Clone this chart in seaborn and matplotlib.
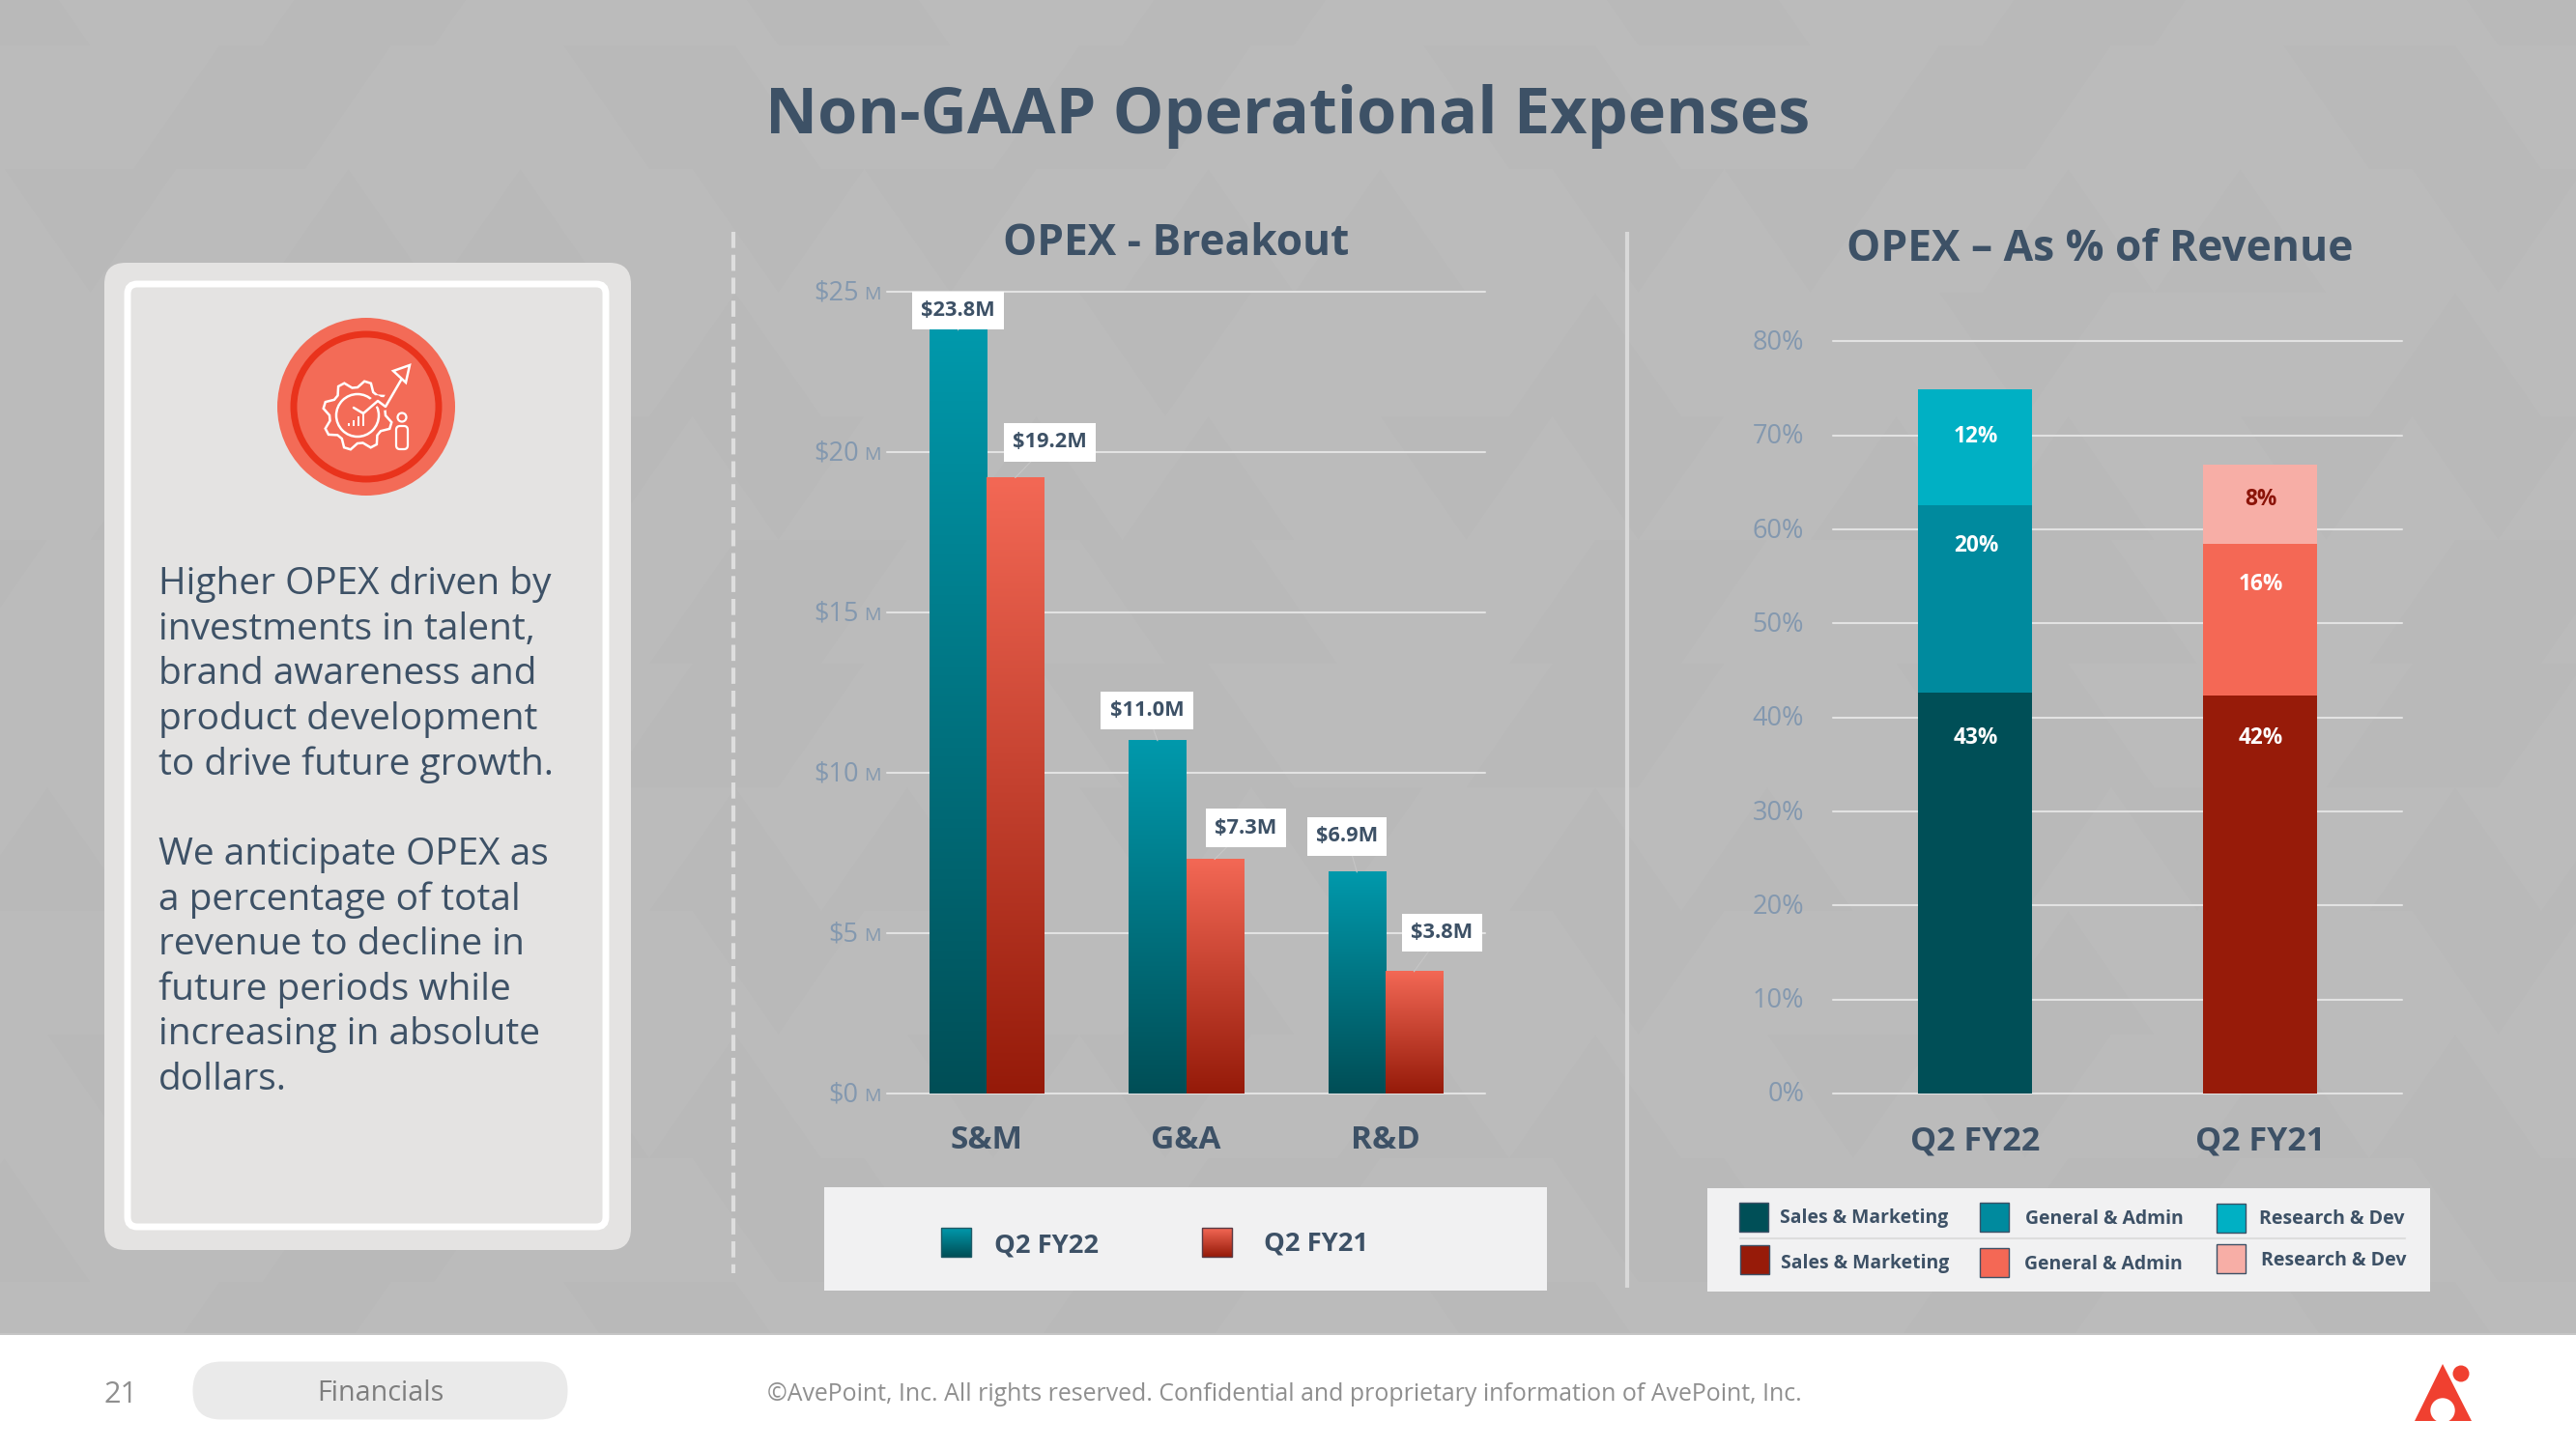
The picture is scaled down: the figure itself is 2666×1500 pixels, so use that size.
import numpy as np
import pandas as pd
import matplotlib
matplotlib.use("Agg")
import matplotlib.pyplot as plt
from matplotlib.colors import LinearSegmentedColormap
from matplotlib.patches import Rectangle, FancyBboxPatch, Circle, Polygon
from matplotlib.collections import PolyCollection
from matplotlib.transforms import ScaledTranslation
import seaborn as sns

# ---------- data ----------
BREAKOUT_CATS = ["S&M", "G&A", "R&D"]
BREAKOUT_FY22 = [23.8, 11.0, 6.9]
BREAKOUT_FY21 = [19.2, 7.3, 3.8]
BREAKOUT_LABELS_FY22 = ["$23.8M", "$11.0M", "$6.9M"]
BREAKOUT_LABELS_FY21 = ["$19.2M", "$7.3M", "$3.8M"]
BREAKOUT_TICKS = [0, 5, 10, 15, 20, 25]

QUARTERS = ["Q2 FY22", "Q2 FY21"]
SEGMENTS = ["Sales & Marketing", "General & Admin", "Research & Dev"]
PCT_FY22 = [42.65, 19.95, 12.35]
PCT_FY21 = [42.3, 16.2, 8.4]
PCT_LABELS_FY22 = ["43%", "20%", "12%"]
PCT_LABELS_FY21 = ["42%", "16%", "8%"]
PCT_TICKS = [0, 10, 20, 30, 40, 50, 60, 70, 80]

SIDEBAR = ["Higher OPEX driven by", "investments in talent,", "brand awareness and",
           "product development", "to drive future growth.", "",
           "We anticipate OPEX as", "a percentage of total", "revenue to decline in",
           "future periods while", "increasing in absolute", "dollars."]

# ---------- style ----------
NAVY = "#3D5166"
TICK = "#8398AF"
GRID = "#E2E2E2"
BG = "#BBBBBB"
TEAL_TOP, TEAL_BOT = "#0099AC", "#004E56"
RED_TOP, RED_BOT = "#F36855", "#951A09"
FY22_COLORS = ["#004F57", "#008A9E", "#00B0C4"]
FY21_COLORS = ["#971B09", "#F46855", "#F7AEA6"]
PCT_TEXT_FY22 = ["white", "white", "white"]
PCT_TEXT_FY21 = ["white", "white", "#8B1409"]

sns.set_theme(style="white")
plt.rcParams["font.family"] = ["Open Sans", "DejaVu Sans"]
plt.rcParams["axes.facecolor"] = "none"

W, H = 2666, 1500
fig = plt.figure(figsize=(W / 100, H / 100), dpi=100, facecolor=BG)
renderer = fig.canvas.get_renderer()


def px_axes(x0, y0, x1, y1, **kw):
    return fig.add_axes([x0 / W, 1 - y1 / H, (x1 - x0) / W, (y1 - y0) / H], **kw)


bg = px_axes(0, 0, W, H, zorder=0)
bg.set_xlim(0, W)
bg.set_ylim(H, 0)
bg.axis("off")


def T(x, y, s, width=None, size=20, color=NAVY, weight="normal", ha="left", va="center", zorder=5):
    t = bg.text(x, y, s, fontsize=size, color=color, fontweight=weight, ha=ha, va=va, zorder=zorder)
    if width:
        w = t.get_window_extent(renderer).width
        t.set_fontsize(size * width / w)
    return t


def nudge(labels, dx_px=0, dy_px=0):
    for lab in labels:
        lab.set_transform(lab.get_transform() + ScaledTranslation(dx_px / 100, dy_px / 100, fig.dpi_scale_trans))


# faint triangle texture
polys, faces = [], []
tw, th = 178, 128
for r in range(-1, 12):
    y0 = 47 + r * th
    for c in range(-1, 32):
        x0 = c * tw / 2 + (r % 2) * tw / 4 - 40
        up = (c + r) % 2 == 0
        pts = [(x0, y0 + th), (x0 + tw, y0 + th), (x0 + tw / 2, y0)] if up else [(x0, y0), (x0 + tw, y0), (x0 + tw / 2, y0 + th)]
        k = (c * c * 3 + r * 7 + c * r) % 5
        polys.append(pts)
        faces.append((1, 1, 1, 0.012) if k in (0, 1) else (0, 0, 0, 0.008) if k == 2 else (0, 0, 0, 0))
bg.add_collection(PolyCollection(polys, facecolors=faces, edgecolors="none", zorder=0.5))

# footer
bg.add_patch(Rectangle((0, 1382), W, H - 1382, fc="white", ec="none", zorder=1))
bg.plot([0, W], [1381, 1381], color="#C8C8C8", lw=1.2, zorder=1)
bg.add_patch(FancyBboxPatch((199 + 30, 1410 + 29), 389 - 60, 1, boxstyle="round,pad=29.5,rounding_size=29.5",
                            fc="#EAEAEA", ec="none", zorder=2))
T(394, 1442.5, "Financials", width=131, color="#7E7E7E", ha="center")
T(125, 1443.5, "21", width=35, color="#8F8F8F", ha="center")
T(794, 1443.5, "©AvePoint, Inc. All rights reserved. Confidential and proprietary information of AvePoint, Inc.",
  width=1071, color="#8F8F8F")

# logo
LOGO = "#F04030"
bg.add_patch(Polygon([(2499, 1471), (2558, 1471), (2528, 1412)], fc=LOGO, ec="none", zorder=2))
bg.add_patch(Circle((2528, 1460), 12.7, fc="white", ec="none", zorder=3))
bg.add_patch(Circle((2547, 1422), 8.5, fc=LOGO, ec="none", zorder=3))

# sidebar card
bg.add_patch(FancyBboxPatch((108 + 22, 272 + 22), 545 - 44, 1022 - 44, boxstyle="round,pad=22,rounding_size=22",
                            fc="#E4E3E2", ec="none", zorder=2))
bg.add_patch(FancyBboxPatch((132 + 10, 294 + 10), 495 - 20, 976 - 20, boxstyle="round,pad=10,rounding_size=10",
                            fc="#E4E3E2", ec="white", lw=5, zorder=3))
# icon
bg.add_patch(Circle((379, 421), 92, fc="#F36B57", ec="none", zorder=4))
bg.add_patch(Circle((379, 421), 75, fc="none", ec="#E9331C", lw=5, zorder=4))
ang = np.linspace(0, 2 * np.pi, 8 * 4, endpoint=False) + 0.2
rad = np.where(np.arange(len(ang)) % 4 < 2, 36, 29)
gear_x = 370 + rad * np.cos(ang)
gear_y = 430 + rad * np.sin(ang)
bg.add_patch(Polygon(np.c_[gear_x, gear_y], closed=True, fc="#F36B57", ec="white", lw=1.8, zorder=5))
bg.add_patch(Circle((370, 430), 22, fc="#F36B57", ec="white", lw=1.8, zorder=5))
bg.plot([364, 375, 390, 398, 416], [420, 427, 414, 420, 388], color="#F36B57", lw=7, zorder=5.5)
bg.plot([366, 376, 391, 399, 417], [422, 428, 415, 421, 390], color="white", lw=1.8, zorder=5.6)
bg.add_patch(Polygon([(424, 378), (407, 384), (420, 396)], fc="#F36B57", ec="white", lw=1.8, zorder=5.7))
for bx, bh in zip([361, 366, 371, 376], [3, 6, 10, 15]):
    bg.plot([bx, bx], [441, 441 - bh], color="white", lw=1.4, zorder=5.7, solid_capstyle="butt")
bg.add_patch(Circle((416, 432), 4.5, fc="#F36B57", ec="white", lw=1.6, zorder=5.7))
bg.add_patch(FancyBboxPatch((411, 442), 10, 22, boxstyle="round,pad=1,rounding_size=4", fc="#F36B57", ec="white", lw=1.6, zorder=5.7))

# sidebar text
ref = T(164, 615, SIDEBAR[0], width=406, color=NAVY, va="baseline")
fs = ref.get_fontsize()
for i, line in enumerate(SIDEBAR[1:], start=1):
    if line:
        T(164, 615 + i * 46.65, line, size=fs, color=NAVY, va="baseline")

# titles
T(1333, 121, "Non-GAAP Operational Expenses", width=1081, weight="bold", ha="center")
T(1217, 252, "OPEX - Breakout", width=358, weight="bold", ha="center")
T(2173, 258, "OPEX – As % of Revenue", width=524, weight="bold", ha="center")

# dividers
bg.plot([759, 759], [240, 1318], color="#DEDEDE", lw=3, dashes=(4.0, 1.7), zorder=1, solid_capstyle="butt")
bg.plot([1684, 1684], [240, 1333], color="#D8D8D8", lw=3, zorder=1, solid_capstyle="butt")

# ---------- left chart ----------
ax1 = px_axes(918, 302, 1537, 1132, zorder=2)
df1 = pd.DataFrame({
    "cat": BREAKOUT_CATS * 2,
    "value": BREAKOUT_FY22 + BREAKOUT_FY21,
    "period": [QUARTERS[0]] * 3 + [QUARTERS[1]] * 3,
})
sns.barplot(data=df1, x="cat", y="value", hue="period", hue_order=QUARTERS, order=BREAKOUT_CATS,
            palette=[TEAL_TOP, RED_TOP], saturation=1, width=0.572, gap=0, dodge=True,
            legend=False, ax=ax1, zorder=3, linewidth=0, edgecolor="none")
teal_cm = LinearSegmentedColormap.from_list("teal", [TEAL_TOP, TEAL_BOT])
red_cm = LinearSegmentedColormap.from_list("red", [RED_TOP, RED_BOT])
grad = np.linspace(0, 1, 256)[:, None]
bars = list(ax1.patches)
for i, b in enumerate(bars):
    ax1.imshow(grad, extent=[b.get_x(), b.get_x() + b.get_width(), 0, b.get_height()], aspect="auto",
               cmap=teal_cm if i < 3 else red_cm, vmin=0, vmax=1, zorder=3.5)
ax1.set_xlim(-0.5, 2.5)
ax1.set_ylim(0, 25)
ax1.set_yticks(BREAKOUT_TICKS)
ax1.set_yticklabels([f"${v}" for v in BREAKOUT_TICKS], fontsize=19.5, color=TICK)
ax1.tick_params(axis="y", length=0, pad=21.2)
ax1.tick_params(axis="x", length=0, pad=23)
ax1.set_xticks(range(3))
ax1.set_xticklabels(BREAKOUT_CATS, fontsize=24, fontweight="bold", color=NAVY)
ax1.set_xlabel("")
ax1.set_ylabel("")
ax1.yaxis.grid(True, color=GRID, lw=1.5)
ax1.set_axisbelow(True)
sns.despine(ax=ax1, left=True, bottom=True)
nudge(ax1.get_yticklabels(), dy_px=2)
for gl in ax1.get_ygridlines():
    gl.set_clip_on(False)
for v in BREAKOUT_TICKS:
    ax1.annotate("M", xy=(0, v), xycoords=ax1.get_yaxis_transform(), xytext=(-6, -3), textcoords="offset pixels",
                 ha="right", va="center", fontsize=14, color=TICK, annotation_clip=False)

LABEL_OFFSETS_FY22 = [(0, 20.5), (-11, 31), (-10.5, 37)]
LABEL_OFFSETS_FY21 = [(35.5, 36.6), (32.5, 32.6), (29, 40)]
for bar, lab, off in zip(bars, BREAKOUT_LABELS_FY22 + BREAKOUT_LABELS_FY21, LABEL_OFFSETS_FY22 + LABEL_OFFSETS_FY21):
    ax1.annotate(lab, xy=(bar.get_x() + bar.get_width() / 2, bar.get_height()), xytext=off,
                 textcoords="offset pixels", ha="center", va="center", fontsize=15.7, fontweight="bold",
                 color=NAVY, zorder=6, annotation_clip=False,
                 bbox=dict(boxstyle="square,pad=0.42", fc="white", ec="none"),
                 arrowprops=dict(arrowstyle="-", color="#C6C6C6", lw=0.8, shrinkA=0, shrinkB=0))

# left legend
bg.add_patch(Rectangle((853, 1229), 748, 107, fc="#F1F1F2", ec="none", zorder=1))
for x0, cm, edge in [(974, teal_cm, "#1F5A66"), (1244, red_cm, "#5A3A44")]:
    bg.imshow(grad, extent=[x0, x0 + 31, 1301, 1271], aspect="auto", cmap=cm, vmin=0, vmax=1, zorder=2)
    bg.add_patch(Rectangle((x0, 1271), 31, 30, fc="none", ec=edge, lw=1, zorder=2.5))
T(1029, 1289.5, QUARTERS[0], width=108, weight="bold")
T(1308, 1287.5, QUARTERS[1], width=108, weight="bold")

# ---------- right chart ----------
ax2 = px_axes(1897, 353.5, 2486, 1132, zorder=2)
PCT_LABEL_OFFSETS_FY22 = [-47, -42, -49]
PCT_LABEL_OFFSETS_FY21 = [-44, -42, -36]
for q, vals, cols, labs, txt, offs in [
    (QUARTERS[0], PCT_FY22, FY22_COLORS, PCT_LABELS_FY22, PCT_TEXT_FY22, PCT_LABEL_OFFSETS_FY22),
    (QUARTERS[1], PCT_FY21, FY21_COLORS, PCT_LABELS_FY21, PCT_TEXT_FY21, PCT_LABEL_OFFSETS_FY21),
]:
    bottom = 0.0
    for seg, v, c, lab, tc, off in zip(SEGMENTS, vals, cols, labs, txt, offs):
        seg_df = pd.DataFrame({"quarter": [q], "pct": [v]})
        sns.barplot(data=seg_df, x="quarter", y="pct", order=QUARTERS, color=c, saturation=1, width=0.401,
                    bottom=bottom, ax=ax2, zorder=3, linewidth=0, edgecolor="none")
        bottom += v
        ax2.annotate(lab, xy=(QUARTERS.index(q), bottom), xytext=(1, off), textcoords="offset pixels",
                     ha="center", va="center", fontsize=16.3, fontweight="bold", color=tc, zorder=6)
ax2.set_xlim(-0.5, 1.5)
ax2.set_ylim(0, 80)
ax2.set_yticks(PCT_TICKS)
ax2.set_yticklabels([f"{v}%" for v in PCT_TICKS], fontsize=19.5, color=TICK)
ax2.tick_params(axis="y", length=0, pad=21.5)
ax2.tick_params(axis="x", length=0, pad=23.5)
ax2.set_xticks(range(2))
ax2.set_xticklabels(QUARTERS, fontsize=24.5, fontweight="bold", color=NAVY)
ax2.set_xlabel("")
ax2.set_ylabel("")
ax2.yaxis.grid(True, color=GRID, lw=1.5)
ax2.set_axisbelow(True)
sns.despine(ax=ax2, left=True, bottom=True)
nudge(ax2.get_yticklabels(), dy_px=2)
for gl in ax2.get_ygridlines():
    gl.set_clip_on(False)

# right legend
bg.add_patch(Rectangle((1767, 1230), 748, 107, fc="#F1F1F2", ec="none", zorder=1))
bg.plot([1801, 2489], [1282, 1282], color="#DDDDDD", lw=1.5, zorder=2)
SW = [(1800, 1245, FY22_COLORS[0]), (2049, 1245, FY22_COLORS[1]), (2294, 1246, FY22_COLORS[2]),
      (1801, 1289, FY21_COLORS[0]), (2049, 1292, FY21_COLORS[1]), (2294, 1288, FY21_COLORS[2])]
TXT = [(1842, 1261), (2096, 1262), (2338, 1262), (1843, 1308), (2095, 1309), (2339.5, 1305)]
for (sx, sy, c), (tx, ty), name in zip(SW, TXT, SEGMENTS * 2):
    bg.add_patch(Rectangle((sx, sy), 30, 30, fc=c, ec=NAVY, lw=1, zorder=2.5))
    width = {"Sales & Marketing": 174, "General & Admin": 164, "Research & Dev": 150}[name]
    T(tx, ty, name, width=width, weight="bold")

bg.set_xlim(0, W)
bg.set_ylim(H, 0)
fig.savefig("out.png", dpi=100, facecolor=BG)
